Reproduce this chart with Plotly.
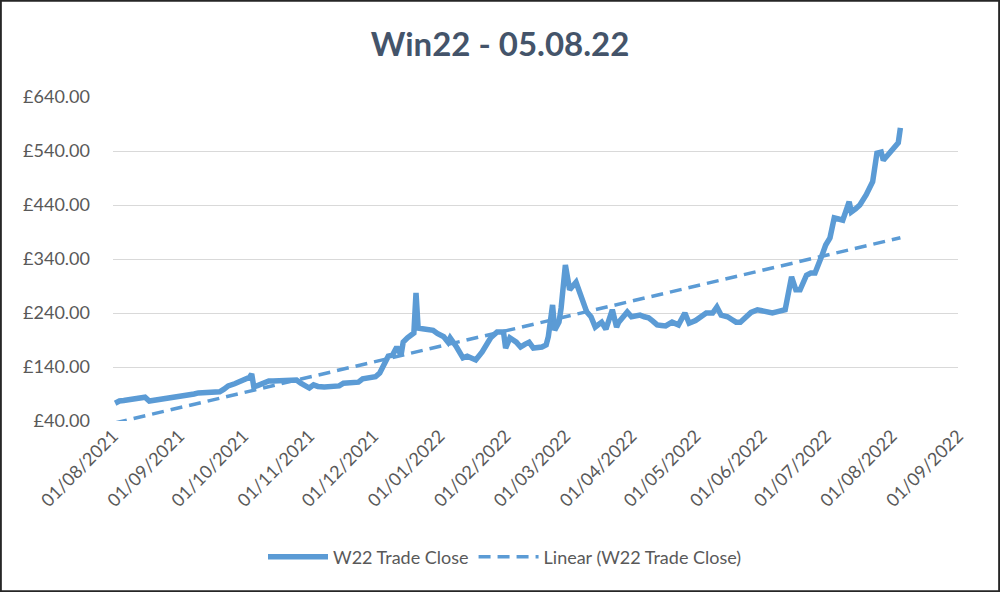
import numpy as np
import pandas as pd
import plotly.graph_objects as go

dates = [
    "2021-08-02", "2021-08-04", "2021-08-06", "2021-08-09", "2021-08-11", "2021-08-13",
    "2021-08-16", "2021-08-18", "2021-08-20", "2021-08-23", "2021-08-25", "2021-08-27",
    "2021-08-30",
    "2021-09-01", "2021-09-03", "2021-09-06", "2021-09-08", "2021-09-10", "2021-09-13",
    "2021-09-15", "2021-09-17", "2021-09-20", "2021-09-22", "2021-09-24", "2021-09-27",
    "2021-09-29",
    "2021-10-01", "2021-10-04", "2021-10-05", "2021-10-06", "2021-10-08", "2021-10-11",
    "2021-10-13", "2021-10-15", "2021-10-18", "2021-10-20", "2021-10-22", "2021-10-26",
    "2021-10-28",
    "2021-11-01", "2021-11-03", "2021-11-05", "2021-11-08", "2021-11-10", "2021-11-12",
    "2021-11-15", "2021-11-17", "2021-11-19", "2021-11-22", "2021-11-24", "2021-11-26",
    "2021-11-30",
    "2021-12-02", "2021-12-04", "2021-12-07", "2021-12-08", "2021-12-10", "2021-12-12",
    "2021-12-14", "2021-12-15", "2021-12-17", "2021-12-20", "2021-12-21", "2021-12-22",
    "2021-12-24", "2021-12-27", "2021-12-29", "2021-12-31",
    "2022-01-03", "2022-01-05", "2022-01-06", "2022-01-09", "2022-01-12", "2022-01-14",
    "2022-01-16", "2022-01-18", "2022-01-21", "2022-01-25", "2022-01-28", "2022-01-31",
    "2022-02-01", "2022-02-03", "2022-02-06", "2022-02-08", "2022-02-10", "2022-02-12",
    "2022-02-14", "2022-02-16", "2022-02-18", "2022-02-20", "2022-02-21", "2022-02-23",
    "2022-02-24", "2022-02-26", "2022-02-27",
    "2022-03-01", "2022-03-03", "2022-03-06", "2022-03-09", "2022-03-11", "2022-03-13",
    "2022-03-15", "2022-03-18", "2022-03-20", "2022-03-23", "2022-03-25", "2022-03-26",
    "2022-03-28", "2022-03-30",
    "2022-04-01", "2022-04-03", "2022-04-05", "2022-04-07", "2022-04-09", "2022-04-11",
    "2022-04-13", "2022-04-15", "2022-04-17", "2022-04-20", "2022-04-23", "2022-04-26",
    "2022-04-28",
    "2022-05-01", "2022-05-03", "2022-05-06", "2022-05-09", "2022-05-11", "2022-05-13",
    "2022-05-16", "2022-05-18", "2022-05-20", "2022-05-22", "2022-05-25", "2022-05-27",
    "2022-05-30",
    "2022-06-01", "2022-06-03", "2022-06-06", "2022-06-08", "2022-06-10", "2022-06-12",
    "2022-06-15", "2022-06-17", "2022-06-19", "2022-06-22", "2022-06-24", "2022-06-26",
    "2022-06-29",
    "2022-07-01", "2022-07-03", "2022-07-05", "2022-07-07", "2022-07-09", "2022-07-12",
    "2022-07-13", "2022-07-15", "2022-07-17", "2022-07-20", "2022-07-23", "2022-07-25",
    "2022-07-27", "2022-07-28", "2022-07-31",
    "2022-08-02", "2022-08-04", "2022-08-05",
]

close = [
    73, 77, 78, 80, 82, 83,
    84, 77, 78, 80, 81, 82,
    83,
    84, 86, 88, 90, 92, 93,
    94, 94, 94, 99, 105, 109,
    112,
    116, 121, 127, 103, 106, 111,
    114, 114, 114, 115, 116, 116,
    110,
    101, 107, 104, 103, 103, 103,
    105, 110, 110, 110, 112, 118,
    120,
    122, 129, 152, 160, 162, 177,
    162, 186, 194, 203, 277, 212,
    211, 210, 208, 202,
    196, 186, 194, 177, 157, 160,
    157, 153, 168, 194, 205, 205,
    175, 194, 186, 177, 182, 186,
    175, 176, 177, 181, 196, 255,
    208, 223, 249,
    329, 283, 297, 264, 242, 233,
    214, 223, 210, 246, 214, 223,
    233, 242,
    233, 235, 236, 233, 231, 225,
    218, 217, 216, 223, 218, 240,
    221,
    226, 231, 240, 240, 251, 236,
    233, 228, 223, 223, 236, 241,
    246,
    244, 242, 240, 242, 243, 246,
    307, 283, 283, 310, 314, 314,
    344,
    366, 379, 416, 414, 412, 446,
    427, 433, 440, 459, 483, 536,
    538, 523, 538,
    547, 555, 583,
]

tick_dates = pd.date_range("2021-08-01", "2022-09-01", freq="MS")
y_ticks = [40, 140, 240, 340, 440, 540, 640]

title_text = "Win22 - 05.08.22"
series_name = "W22 Trade Close"
trend_name = "Linear (W22 Trade Close)"

x = pd.to_datetime(dates)
days = (x - x[0]).days.values.astype(float)
slope, intercept = np.polyfit(days, np.array(close, dtype=float), 1)
trend_x = [x[0], x[-1]]
trend_y = [intercept, intercept + slope * days[-1]]

blue = "#5B9BD5"
fig = go.Figure()
fig.add_trace(go.Scatter(x=x, y=close, mode="lines", name=series_name,
                         line=dict(color=blue, width=5.5)))
fig.add_trace(go.Scatter(x=trend_x, y=trend_y, mode="lines", name=trend_name,
                         line=dict(color=blue, width=3.5, dash="12px,7px")))

W, H = 1000, 592
L, R, T, B = 113, 42, 97, 171
pw, ph = W - L - R, H - T - B

fig.update_layout(
    width=W, height=H,
    margin=dict(l=L, r=R, t=T, b=B, autoexpand=False),
    paper_bgcolor="white", plot_bgcolor="white",
    font=dict(family="Lato, Open Sans, sans-serif", size=18, color="#595959"),
    title=dict(text=title_text, x=0.5, xanchor="center", y=1 - 44 / H, yanchor="middle",
               font=dict(family="Lato, Open Sans, sans-serif", size=33, color="#44546A", weight="bold")),
    showlegend=True,
    legend=dict(orientation="h", x=(505 - L) / pw, xanchor="center",
                y=-(557 - 421) / ph, yanchor="middle",
                font=dict(size=18, color="#595959"), itemwidth=60, traceorder="normal"),
    xaxis=dict(
        type="date",
        range=["2021-08-01", "2022-09-01"],
        tickvals=tick_dates,
        tickformat="%d/%m/%Y",
        tickangle=-45,
        showgrid=False,
        showline=False,
        zeroline=False,
        ticks="",
        tickfont=dict(size=18, color="#595959"),
    ),
    yaxis=dict(
        range=[40, 640],
        tickvals=y_ticks,
        ticktext=[f"£{v:.2f}" for v in y_ticks],
        showgrid=True, gridcolor="#D9D9D9", gridwidth=1,
        zeroline=False, showline=False, ticks="",
        ticklabelstandoff=22,
        tickfont=dict(size=18, color="#595959"),
    ),
    shapes=[dict(type="rect", xref="paper", yref="paper",
                 x0=-L / pw + 0.001, x1=1 + R / pw - 0.001,
                 y0=-B / ph + 0.002, y1=1 + T / ph - 0.002,
                 line=dict(color="#262626", width=2), fillcolor="rgba(0,0,0,0)", layer="above")],
)

fig.write_html("out.html")
